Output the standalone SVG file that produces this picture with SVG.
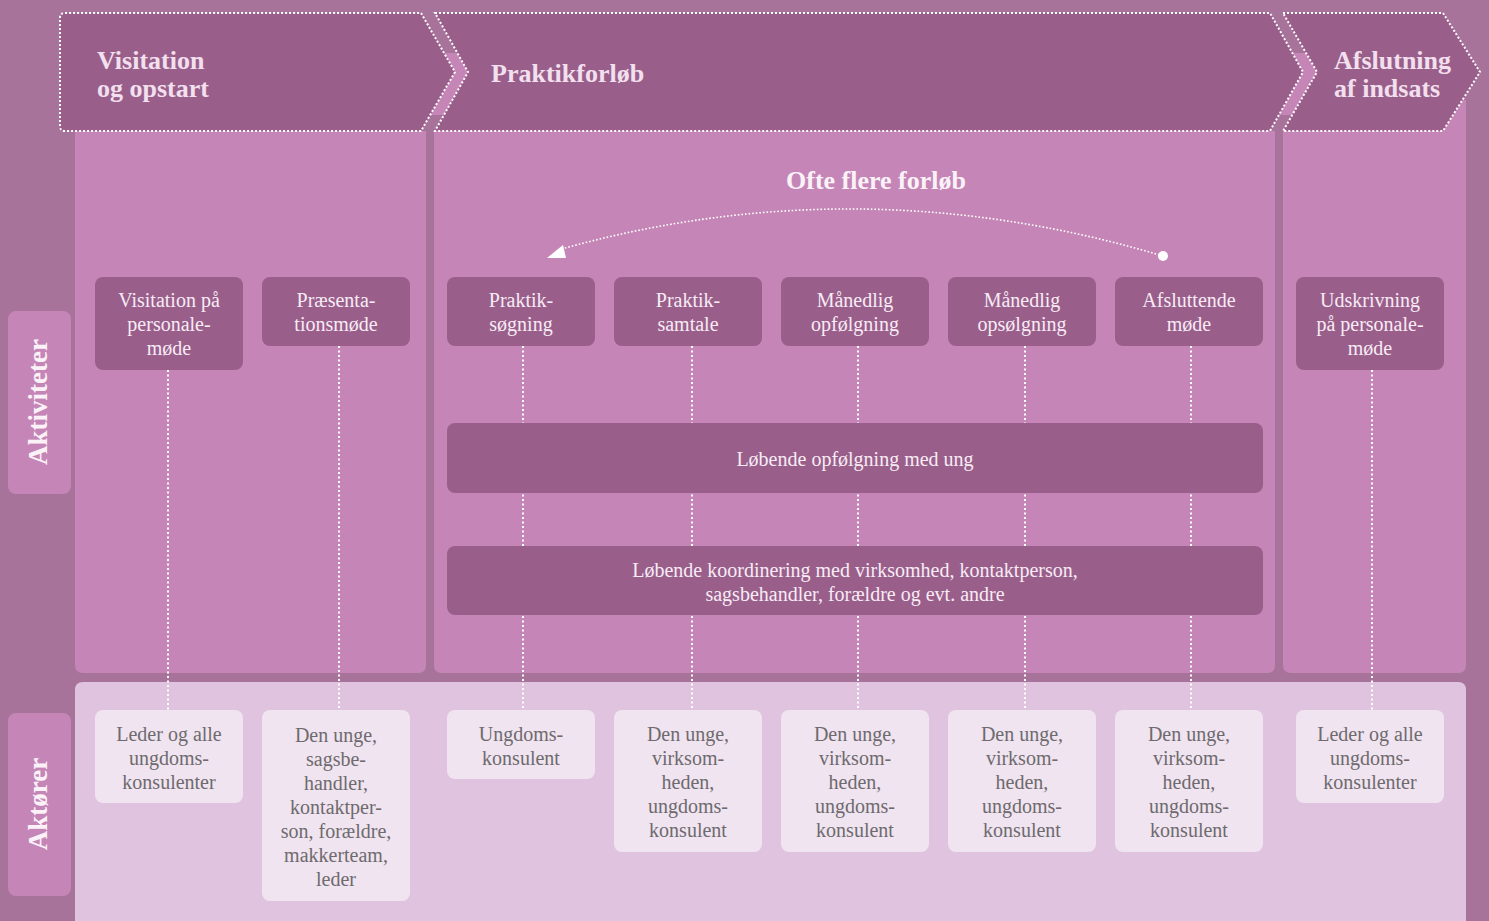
<svg xmlns="http://www.w3.org/2000/svg" width="1489" height="921" viewBox="0 0 1489 921">
<defs>
<style>
.hdr{fill:#9a5e8b;stroke:#fff;stroke-width:2;stroke-dasharray:2 2}
.htxt{font-family:"Liberation Serif",serif;font-weight:bold;font-size:26px;fill:#f2e0ee}
.panel{fill:#c586b7}
.act rect{fill:#9a5e8b}
.act text{font-family:"Liberation Serif",serif;font-size:20px;fill:#f7ecf4;text-anchor:middle}
.actor rect{fill:#f0e4f0}
.actor text{font-family:"Liberation Serif",serif;font-size:20px;fill:#6e6a6e;text-anchor:middle}
.side rect{fill:#c586b7}
.side text{font-family:"Liberation Serif",serif;font-weight:bold;font-size:27px;fill:#fbf2f8;text-anchor:middle}
.dl{stroke:#fff;stroke-width:2;stroke-dasharray:2 2.5;fill:none}
</style>
<clipPath id="c1"><polygon points="421,13 435,13 468,72 435,131 421,131 455,72"/></clipPath>
<clipPath id="c2"><polygon points="1270,13 1283,13 1317,72 1283,131 1270,131 1303,72"/></clipPath>
</defs>
<rect width="1489" height="921" fill="#a8739a"/>

<!-- column panels -->
<path class="panel" d="M75,100 H426 V665 Q426,673 418,673 H83 Q75,673 75,665 Z"/>
<path class="panel" d="M434,100 H1275 V665 Q1275,673 1267,673 H442 Q434,673 434,665 Z"/>
<path class="panel" d="M1283,100 H1466 V665 Q1466,673 1458,673 H1291 Q1283,673 1283,665 Z"/>
<path d="M75,690 Q75,682 83,682 H1458 Q1466,682 1466,690 V921 H75 Z" fill="#e0c3de"/>

<!-- gaps between header chevrons -->
<g clip-path="url(#c1)"><rect x="415" y="10" width="60" height="125" fill="#a8739a"/><rect x="415" y="53" width="60" height="62" fill="#c586b7"/></g>
<g clip-path="url(#c2)"><rect x="1265" y="10" width="60" height="125" fill="#a8739a"/><rect x="1265" y="53" width="60" height="62" fill="#c586b7"/></g>

<!-- headers -->
<g id="h1">
<path class="hdr" d="M60,18 Q60,13 65,13 H421 L455,72 L421,131 H65 Q60,131 60,126 Z"/>
<text class="htxt" x="97" y="69">Visitation</text>
<text class="htxt" x="97" y="97">og opstart</text>
</g>
<g id="h2">
<path class="hdr" d="M435,13 H1270 L1303,72 L1270,131 H435 L468,72 Z"/>
<text class="htxt" x="491" y="82">Praktikforløb</text>
</g>
<g id="h3">
<path class="hdr" d="M1283,13 H1443 L1480,72 L1443,131 H1283 L1317,72 Z"/>
<text class="htxt" x="1334" y="69">Afslutning</text>
<text class="htxt" x="1334" y="97">af indsats</text>
</g>

<!-- side labels -->
<g id="side-aktiviteter" class="side">
<rect x="8" y="311" width="63" height="183" rx="8"/>
<text transform="translate(47,402) rotate(-90)">Aktiviteter</text>
</g>
<g id="side-aktorer" class="side">
<rect x="8" y="713" width="63" height="183" rx="8"/>
<text transform="translate(47,804) rotate(-90)">Aktører</text>
</g>

<!-- connectors -->
<g id="connectors">
<line class="dl" x1="168" y1="370" x2="168" y2="710"/>
<line class="dl" x1="339" y1="346" x2="339" y2="710"/>
<line class="dl" x1="523" y1="346" x2="523" y2="710"/>
<line class="dl" x1="692" y1="346" x2="692" y2="710"/>
<line class="dl" x1="858" y1="346" x2="858" y2="710"/>
<line class="dl" x1="1025" y1="346" x2="1025" y2="710"/>
<line class="dl" x1="1191" y1="346" x2="1191" y2="710"/>
<line class="dl" x1="1372" y1="370" x2="1372" y2="710"/>
<path d="M1163,256 Q858,165 558,250" fill="none" stroke="#fff" stroke-width="1.6" stroke-dasharray="1.6 2"/>
<circle cx="1163" cy="256" r="5" fill="#fff"/>
<polygon points="547,258 563,245 566,258" fill="#fff"/>
</g>

<text x="876" y="189" text-anchor="middle" font-family="Liberation Serif, serif" font-weight="bold" font-size="26" fill="#fbf2f8">Ofte flere forløb</text>

<!-- activity nodes -->
<g id="a1" class="act"><rect x="95" y="277" width="148" height="93" rx="8"/>
<text x="169" y="307">Visitation på</text><text x="169" y="331">personale-</text><text x="169" y="355">møde</text></g>
<g id="a2" class="act"><rect x="262" y="277" width="148" height="69" rx="8"/>
<text x="336" y="307">Præsenta-</text><text x="336" y="331">tionsmøde</text></g>
<g id="a3" class="act"><rect x="447" y="277" width="148" height="69" rx="8"/>
<text x="521" y="307">Praktik-</text><text x="521" y="331">søgning</text></g>
<g id="a4" class="act"><rect x="614" y="277" width="148" height="69" rx="8"/>
<text x="688" y="307">Praktik-</text><text x="688" y="331">samtale</text></g>
<g id="a5" class="act"><rect x="781" y="277" width="148" height="69" rx="8"/>
<text x="855" y="307">Månedlig</text><text x="855" y="331">opfølgning</text></g>
<g id="a6" class="act"><rect x="948" y="277" width="148" height="69" rx="8"/>
<text x="1022" y="307">Månedlig</text><text x="1022" y="331">opsølgning</text></g>
<g id="a7" class="act"><rect x="1115" y="277" width="148" height="69" rx="8"/>
<text x="1189" y="307">Afsluttende</text><text x="1189" y="331">møde</text></g>
<g id="a8" class="act"><rect x="1296" y="277" width="148" height="93" rx="8"/>
<text x="1370" y="307">Udskrivning</text><text x="1370" y="331">på personale-</text><text x="1370" y="355">møde</text></g>

<g id="bar1" class="act"><rect x="447" y="423" width="816" height="70" rx="8"/>
<text x="855" y="466">Løbende opfølgning med ung</text></g>
<g id="bar2" class="act"><rect x="447" y="546" width="816" height="69" rx="8"/>
<text x="855" y="577">Løbende koordinering med virksomhed, kontaktperson,</text>
<text x="855" y="601">sagsbehandler, forældre og evt. andre</text></g>

<!-- actor nodes -->
<g id="r1" class="actor"><rect x="95" y="710" width="148" height="93" rx="8"/>
<text x="169" y="741">Leder og alle</text><text x="169" y="765">ungdoms-</text><text x="169" y="789">konsulenter</text></g>
<g id="r2" class="actor"><rect x="262" y="710" width="148" height="191" rx="8"/>
<text x="336" y="742">Den unge,</text><text x="336" y="766">sagsbe-</text><text x="336" y="790">handler,</text><text x="336" y="814">kontaktper-</text><text x="336" y="838">son, forældre,</text><text x="336" y="862">makkerteam,</text><text x="336" y="886">leder</text></g>
<g id="r3" class="actor"><rect x="447" y="710" width="148" height="69" rx="8"/>
<text x="521" y="741">Ungdoms-</text><text x="521" y="765">konsulent</text></g>
<g id="r4" class="actor"><rect x="614" y="710" width="148" height="142" rx="8"/>
<text x="688" y="741">Den unge,</text><text x="688" y="765">virksom-</text><text x="688" y="789">heden,</text><text x="688" y="813">ungdoms-</text><text x="688" y="837">konsulent</text></g>
<g id="r5" class="actor"><rect x="781" y="710" width="148" height="142" rx="8"/>
<text x="855" y="741">Den unge,</text><text x="855" y="765">virksom-</text><text x="855" y="789">heden,</text><text x="855" y="813">ungdoms-</text><text x="855" y="837">konsulent</text></g>
<g id="r6" class="actor"><rect x="948" y="710" width="148" height="142" rx="8"/>
<text x="1022" y="741">Den unge,</text><text x="1022" y="765">virksom-</text><text x="1022" y="789">heden,</text><text x="1022" y="813">ungdoms-</text><text x="1022" y="837">konsulent</text></g>
<g id="r7" class="actor"><rect x="1115" y="710" width="148" height="142" rx="8"/>
<text x="1189" y="741">Den unge,</text><text x="1189" y="765">virksom-</text><text x="1189" y="789">heden,</text><text x="1189" y="813">ungdoms-</text><text x="1189" y="837">konsulent</text></g>
<g id="r8" class="actor"><rect x="1296" y="710" width="148" height="93" rx="8"/>
<text x="1370" y="741">Leder og alle</text><text x="1370" y="765">ungdoms-</text><text x="1370" y="789">konsulenter</text></g>
</svg>
